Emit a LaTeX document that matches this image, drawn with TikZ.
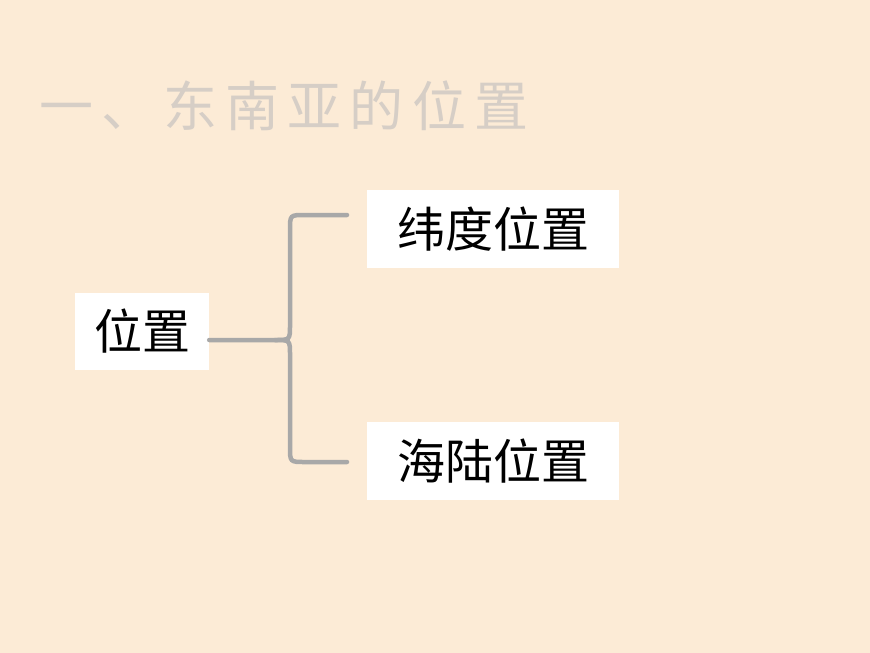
\documentclass[tikz,border=0pt]{standalone}
\usepackage{fontspec}
\newfontfamily\cjk{Noto Sans CJK SC}
\newfontfamily\cjkwide[LetterSpace=15]{Noto Sans CJK SC}
\definecolor{bgpeach}{HTML}{FCEBD6}
\definecolor{titlegrey}{HTML}{D6CEC6}
\definecolor{bracegrey}{HTML}{A8A8A8}
\tikzset{
  termbox/.style={fill=white,inner sep=0pt,font=\cjk\fontsize{48}{48}\selectfont}
}
\begin{document}
\begin{tikzpicture}[x=1pt,y=-1pt]
\useasboundingbox[fill=bgpeach] (0,0) rectangle (870,653);

% title
\node[anchor=west,text=titlegrey,font=\cjkwide\fontsize{54}{54}\selectfont] (title) at (36,106) {一、东南亚的位置};

% boxes
\node[termbox,minimum width=134,minimum height=77] (pos) at (142,331) {位置};
\node[termbox,minimum width=252,minimum height=78] (lat) at (493,229) {纬度位置};
\node[termbox,minimum width=252,minimum height=78] (sea) at (493,461) {海陆位置};

% brace
\coordinate (top) at (347,215);
\coordinate (bot) at (347,462);
\coordinate (mid) at (pos.east |- 0,340);
\draw[bracegrey,line width=4.5,line cap=round]
  (mid) -- (275,340) .. controls (290,340) .. (290,325) -- (290,230)
  .. controls (290,215) .. (305,215) -- (top);
\draw[bracegrey,line width=4.5,line cap=round]
  (275,340) .. controls (290,340) .. (290,355) -- (290,447)
  .. controls (290,462) .. (305,462) -- (bot);
\end{tikzpicture}
\end{document}
